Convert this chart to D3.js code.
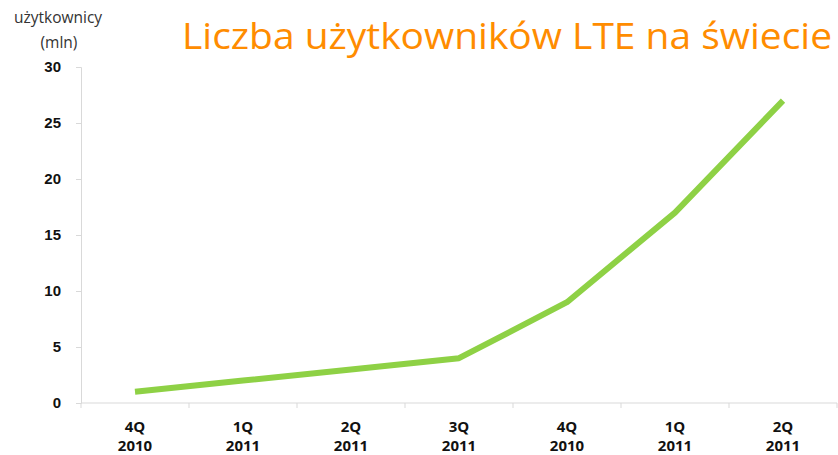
<!DOCTYPE html>
<html lang="pl">
<head>
  <meta charset="UTF-8">
  <title>Liczba użytkowników LTE na świecie</title>
  <style>
    body { margin: 0; background: #fff; }
    svg { display: block; font-family: "Open Sans", "DejaVu Sans", sans-serif; }
    .tick-label { font-size: 15px; font-weight: bold; fill: #111; }
  </style>
</head>
<body>
  <svg id="chart" width="838" height="455"></svg>
  <script src="https://d3js.org/d3.v7.min.js"></script>
  <script>
    // quarters and their years (two-line labels)
    const quarters = ["4Q", "1Q", "2Q", "3Q", "4Q", "1Q", "2Q"];
    const years = ["2010", "2011", "2011", "2011", "2010", "2011", "2011"];
    // users in millions
    const users = [1, 2, 3, 4, 9, 17, 27];
    const yTicks = [0, 5, 10, 15, 20, 25, 30];

    const svg = d3.select("#chart");
    const margin = { top: 67, right: 1, bottom: 52, left: 81 };
    const width = 838, height = 455;

    const x = d3.scaleBand()
      .domain(d3.range(quarters.length))
      .range([margin.left, width - margin.right])
      .paddingInner(0).paddingOuter(0);

    const y = d3.scaleLinear()
      .domain([0, 30])
      .range([height - margin.bottom, margin.top]);

    const axisColor = "#d9d9d9";

    // y axis
    const yAxis = svg.append("g")
      .attr("transform", `translate(${margin.left},0)`)
      .call(d3.axisLeft(y).tickValues(yTicks).tickSize(5).tickPadding(15));
    yAxis.select(".domain").attr("stroke", axisColor);
    yAxis.selectAll(".tick line").attr("stroke", axisColor);
    yAxis.selectAll(".tick text").attr("class", "tick-label").attr("font-family", null).attr("font-size", null);

    // x axis line
    svg.append("line")
      .attr("x1", margin.left).attr("x2", width - margin.right)
      .attr("y1", y(0)).attr("y2", y(0))
      .attr("stroke", axisColor);

    // x ticks at band boundaries
    const bounds = d3.range(quarters.length + 1).map(i => i < quarters.length ? x(i) : x(i - 1) + x.bandwidth());
    svg.append("g").selectAll("line")
      .data(bounds)
      .join("line")
      .attr("x1", d => d).attr("x2", d => d)
      .attr("y1", y(0)).attr("y2", y(0) + 5)
      .attr("stroke", axisColor);

    // x labels
    const xl = svg.append("g").selectAll("text")
      .data(quarters)
      .join("text")
      .attr("class", "tick-label")
      .attr("text-anchor", "middle")
      .attr("x", (d, i) => x(i) + x.bandwidth() / 2)
      .attr("y", 432);
    xl.append("tspan").text(d => d);
    xl.append("tspan")
      .attr("x", (d, i) => x(i) + x.bandwidth() / 2)
      .attr("dy", 19)
      .text((d, i) => years[i]);

    // line
    const line = d3.line()
      .x((d, i) => x(i) + x.bandwidth() / 2)
      .y(d => y(d));
    svg.append("path")
      .datum(users)
      .attr("d", line)
      .attr("fill", "none")
      .attr("stroke", "#8ed145")
      .attr("stroke-width", 6)
      .attr("stroke-linejoin", "round")
      .attr("stroke-linecap", "butt");

    // y axis caption
    svg.append("text")
      .attr("x", 58).attr("y", 23)
      .attr("text-anchor", "middle")
      .attr("font-size", 15.5).attr("fill", "#333")
      .text("użytkownicy");
    svg.append("text")
      .attr("x", 59).attr("y", 48)
      .attr("text-anchor", "middle")
      .attr("font-size", 15.5).attr("fill", "#333")
      .text("(mln)");

    // title
    svg.append("text")
      .attr("x", 832).attr("y", 49)
      .attr("text-anchor", "end")
      .attr("font-size", 36)
      .attr("fill", "#ff8c00")
      .attr("textLength", 650)
      .attr("lengthAdjust", "spacingAndGlyphs")
      .text("Liczba użytkowników LTE na świecie");
  </script>
</body>
</html>
